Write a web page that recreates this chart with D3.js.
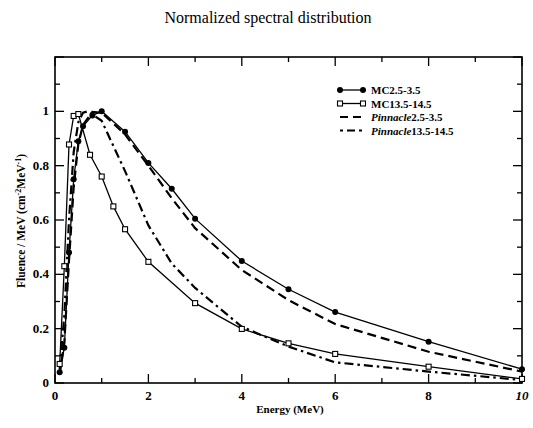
<!DOCTYPE html>
<html><head><meta charset="utf-8">
<script src="https://cdn.jsdelivr.net/npm/d3@7"></script>
<style>body{margin:0;background:#fff}svg{display:block}</style>
</head><body>
<svg id="c" width="533" height="428"></svg>
<script>
const title = "Normalized spectral distribution";
const xLabel = "Energy (MeV)";
const xTicks = [0, 2, 4, 6, 8, 10];
const yTicks = [0, 0.2, 0.4, 0.6, 0.8, 1];
const yTickLabels = ["0", "0.2", "0.4", "0.6", "0.8", "1"];

const mc25E = [0.1, 0.2, 0.3, 0.4, 0.5, 0.6, 0.8, 1.0, 1.5, 2.0, 2.5, 3.0, 4.0, 5.0, 6.0, 8.0, 10.0];
const mc25V = [0.04, 0.13, 0.48, 0.75, 0.89, 0.945, 0.985, 1.0, 0.925, 0.81, 0.715, 0.605, 0.449, 0.345, 0.261, 0.152, 0.051];

const mc135E = [0.1, 0.2, 0.3, 0.4, 0.5, 0.75, 1.0, 1.25, 1.5, 2.0, 3.0, 4.0, 5.0, 6.0, 8.0, 10.0];
const mc135V = [0.07, 0.43, 0.878, 0.983, 0.99, 0.84, 0.76, 0.65, 0.566, 0.446, 0.294, 0.199, 0.146, 0.107, 0.06, 0.015];

const pin25E = [0.1, 0.2, 0.3, 0.4, 0.5, 0.6, 0.8, 1.0, 1.5, 2.0, 2.5, 3.0, 4.0, 5.0, 6.0, 8.0, 10.0];
const pin25V = [0.03, 0.15, 0.45, 0.72, 0.88, 0.95, 0.998, 0.995, 0.915, 0.8, 0.68, 0.57, 0.416, 0.305, 0.217, 0.115, 0.042];

const pin135E = [0.1, 0.2, 0.3, 0.4, 0.5, 0.6, 0.7, 1.0, 1.5, 2.0, 2.5, 3.0, 4.0, 5.0, 6.0, 8.0, 10.0];
const pin135V = [0.05, 0.25, 0.6, 0.85, 0.96, 0.995, 1.0, 0.965, 0.78, 0.58, 0.44, 0.35, 0.207, 0.134, 0.076, 0.042, 0.011];

const legendNames = [["MC", "2.5-3.5"], ["MC", "13.5-14.5"], ["Pinnacle", "2.5-3.5"], ["Pinnacle", "13.5-14.5"]];

const svg = d3.select("#c");
const L = 55, R = 522, T = 57, B = 383;
const x = d3.scaleLinear().domain([0, 10]).range([L, R]);
const y = d3.scaleLinear().domain([0, 1.2]).range([B, T]);
const font = "'Liberation Serif', 'DejaVu Serif', serif";

svg.append("text").attr("x", 268).attr("y", 23).attr("text-anchor", "middle")
  .attr("font-family", font).attr("font-size", 16).text(title);

// frame
svg.append("rect").attr("x", L).attr("y", T).attr("width", R - L).attr("height", B - T)
  .attr("fill", "none").attr("stroke", "#000").attr("stroke-width", 1.6);

// ticks
const g = svg.append("g").attr("stroke", "#000").attr("stroke-width", 1.3);
d3.range(0, 11, 1).forEach(v => {
  const major = v % 2 === 0;
  const len = major ? 9 : 5;
  g.append("line").attr("x1", x(v)).attr("x2", x(v)).attr("y1", B).attr("y2", B - len);
  g.append("line").attr("x1", x(v)).attr("x2", x(v)).attr("y1", T).attr("y2", T + len);
});
d3.range(0, 13, 1).forEach(i => {
  const v = i / 10;
  const major = i % 2 === 0;
  const len = major ? 9 : 5;
  g.append("line").attr("x1", L).attr("x2", L + len).attr("y1", y(v)).attr("y2", y(v));
  g.append("line").attr("x1", R).attr("x2", R - len).attr("y1", y(v)).attr("y2", y(v));
});

// tick labels
svg.append("g").selectAll("text").data(xTicks).join("text")
  .attr("x", d => x(d)).attr("y", B + 17).attr("text-anchor", "middle")
  .attr("font-family", font).attr("font-size", 13).attr("font-weight", "bold")
  .attr("font-style", d => d === 10 ? "italic" : "normal").text(d => d);
svg.append("g").selectAll("text").data(yTicks).join("text")
  .attr("x", L - 6).attr("y", d => y(d) + 4).attr("text-anchor", "end")
  .attr("font-family", font).attr("font-size", 13).attr("font-weight", "bold")
  .text((d, i) => yTickLabels[i]);

// axis labels
svg.append("text").attr("x", 290).attr("y", 413).attr("text-anchor", "middle")
  .attr("font-family", font).attr("font-size", 11).attr("font-weight", "bold").text(xLabel);
const yl = svg.append("text").attr("transform", "translate(25,221) rotate(-90)").attr("text-anchor", "middle")
  .attr("font-family", font).attr("font-size", 11.5).attr("font-weight", "bold");
yl.append("tspan").text("Fluence / MeV (cm");
yl.append("tspan").attr("dy", -4).attr("font-size", 8).text("-2");
yl.append("tspan").attr("dy", 4).text("MeV");
yl.append("tspan").attr("dy", -4).attr("font-size", 8).text("-1");
yl.append("tspan").attr("dy", 4).text(")");

const line = d3.line().x(d => x(d[0])).y(d => y(d[1]));
const zip = (a, b) => a.map((v, i) => [v, b[i]]);

const plot = svg.append("g");
const styles = [
  {E: mc25E, V: mc25V, w: 1.3, dash: null, marker: "circle"},
  {E: mc135E, V: mc135V, w: 1.3, dash: null, marker: "square"},
  {E: pin25E, V: pin25V, w: 2.2, dash: "9,5", marker: null},
  {E: pin135E, V: pin135V, w: 2.2, dash: "9,4,2.5,4", marker: null}
];
styles.forEach(s => {
  plot.append("path").datum(zip(s.E, s.V)).attr("d", line).attr("fill", "none")
    .attr("stroke", "#000").attr("stroke-width", s.w).attr("stroke-dasharray", s.dash);
});
plot.append("g").selectAll("circle").data(zip(mc25E, mc25V)).join("circle")
  .attr("cx", d => x(d[0])).attr("cy", d => y(d[1])).attr("r", 3).attr("fill", "#000");
plot.append("g").selectAll("rect").data(zip(mc135E, mc135V)).join("rect")
  .attr("x", d => x(d[0]) - 2.5).attr("y", d => y(d[1]) - 2.5).attr("width", 5).attr("height", 5)
  .attr("fill", "#fff").attr("stroke", "#000").attr("stroke-width", 1.1);

// legend
const lg = svg.append("g");
const lx0 = 340, lx1 = 363, ly0 = 90, dy = 13.5;
legendNames.forEach((n, i) => {
  const s = styles[i];
  const yy = ly0 + i * dy;
  lg.append("line").attr("x1", lx0).attr("x2", lx1).attr("y1", yy).attr("y2", yy)
    .attr("stroke", "#000").attr("stroke-width", s.w)
    .attr("stroke-dasharray", i === 2 ? "8,5" : i === 3 ? "3,4,8,4,3" : null);
  if (s.marker === "circle") {
    [lx0, lx1].forEach(px => lg.append("circle").attr("cx", px).attr("cy", yy).attr("r", 3).attr("fill", "#000"));
  } else if (s.marker === "square") {
    [lx0, lx1].forEach(px => lg.append("rect").attr("x", px - 2.5).attr("y", yy - 2.5).attr("width", 5).attr("height", 5)
      .attr("fill", "#fff").attr("stroke", "#000").attr("stroke-width", 1.1));
  }
  const t = lg.append("text").attr("x", 371).attr("y", yy + 4)
    .attr("font-family", font).attr("font-size", 11).attr("font-weight", "bold");
  t.append("tspan").attr("font-style", n[0] === "Pinnacle" ? "italic" : "normal").text(n[0]);
  t.append("tspan").text(n[1]);
});
</script>
</body></html>
